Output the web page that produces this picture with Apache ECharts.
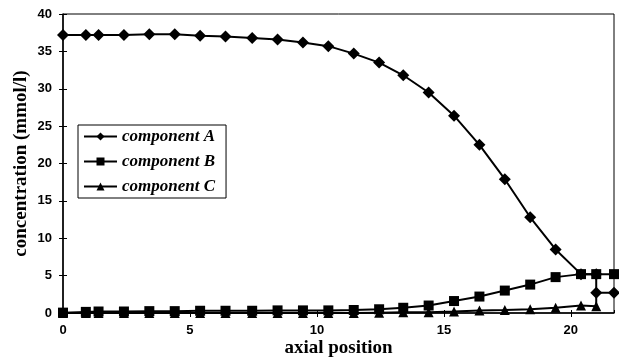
<!DOCTYPE html>
<html>
<head>
<meta charset="utf-8">
<script src="https://cdn.jsdelivr.net/npm/echarts@6/dist/echarts.min.js"></script>
<style>
html,body{margin:0;padding:0;background:#fff;}
#chart{width:619px;height:357px;}
</style>
</head>
<body>
<div id="chart"></div>
<script>
// axial positions shared by components A and B
const xPos = [0, 0.9, 1.4, 2.4, 3.4, 4.4, 5.4, 6.4, 7.45, 8.45, 9.45, 10.45, 11.45, 12.45, 13.4, 14.4, 15.4, 16.4, 17.4, 18.4, 19.4, 20.4, 21.0];
const valuesA = [37.2, 37.2, 37.2, 37.2, 37.3, 37.3, 37.1, 37.0, 36.8, 36.6, 36.2, 35.7, 34.7, 33.5, 31.8, 29.5, 26.4, 22.5, 17.9, 12.8, 8.5, 5.2, 5.2];
// outlet step of A
const xTailA = [21.0, 21.7];
const valuesTailA = [2.7, 2.7];
const valuesB = [0.05, 0.15, 0.2, 0.2, 0.25, 0.25, 0.3, 0.3, 0.3, 0.35, 0.35, 0.35, 0.4, 0.5, 0.7, 1.0, 1.6, 2.2, 3.0, 3.8, 4.8, 5.2, 5.2];
const xTailB = [21.7];
const valuesTailB = [5.2];
const xPosC = [0, 0.9, 1.4, 2.4, 3.4, 4.4, 5.4, 6.4, 7.45, 8.45, 9.45, 10.45, 11.45, 12.45, 13.4, 14.4, 15.4, 16.4, 17.4, 18.4, 19.4, 20.4, 21.0];
const valuesC = [0, 0, 0, 0, 0, 0, 0, 0, 0, 0, 0, 0, 0, 0.05, 0.1, 0.1, 0.2, 0.35, 0.4, 0.5, 0.7, 1.0, 0.9];
const seriesNames = ['component A', 'component B', 'component C'];
const yTicks = {min: 0, max: 40, interval: 5};
const xTicks = {min: 0, max: 21.7, interval: 5};

function pairs(xs, ys) { return xs.map((x, i) => [x, ys[i]]); }

const dataA = pairs(xPos, valuesA).concat(pairs(xTailA, valuesTailA));
const dataB = pairs(xPos, valuesB).concat(pairs(xTailB, valuesTailB));
const dataC = pairs(xPosC, valuesC).concat([[21.0, 2.7]].map(p => ({value: p, symbol: 'none'})));

const tickFont = {fontFamily: 'Liberation Sans, Arial, sans-serif', fontSize: 13, fontWeight: 'bold', color: '#000'};
const nameFont = {fontFamily: 'Liberation Serif, Times New Roman, serif', fontWeight: 'bold', fontSize: 19, color: '#000'};

const chart = echarts.init(document.getElementById('chart'), null, {renderer: 'canvas'});
chart.setOption({
  animation: false,
  backgroundColor: '#fff',
  grid: {left: 63, right: 5, top: 14, bottom: 44, outerBoundsMode: 'none', containLabel: false,
         show: true, borderColor: '#000', borderWidth: 1, backgroundColor: 'transparent'},
  legend: {
    orient: 'vertical', left: 78, top: 125,
    data: seriesNames,
    backgroundColor: '#fff', borderColor: '#000', borderWidth: 1,
    padding: [3, 11, 3, 5], itemGap: 8, itemWidth: 33, itemHeight: 10,
    textStyle: {fontFamily: 'Liberation Serif, Times New Roman, serif', fontStyle: 'italic', fontWeight: 'bold', fontSize: 17, color: '#000'}
  },
  xAxis: [{
    type: 'value', min: xTicks.min, max: xTicks.max, interval: xTicks.interval,
    name: 'axial position', nameLocation: 'middle', nameGap: 26, nameMoveOverlap: false, nameTextStyle: nameFont,
    axisLine: {onZero: false, lineStyle: {color: '#000', width: 1.5}},
    axisTick: {length: 4, lineStyle: {color: '#000'}},
    axisLabel: Object.assign({margin: 11, showMaxLabel: false}, tickFont),
    splitLine: {show: false}
  }, {
    type: 'value', position: 'bottom', min: xTicks.min, max: xTicks.max, interval: xTicks.interval,
    axisLine: {show: false}, axisTick: {inside: true, length: 3, lineStyle: {color: '#000'}},
    axisLabel: {show: false}, splitLine: {show: false}
  }],
  yAxis: [{
    type: 'value', min: yTicks.min, max: yTicks.max, interval: yTicks.interval,
    name: 'concentration (mmol/l)', nameLocation: 'middle', nameGap: 32, nameMoveOverlap: false, nameTextStyle: nameFont,
    axisLine: {onZero: false, lineStyle: {color: '#000', width: 1.5}},
    axisTick: {length: 4, lineStyle: {color: '#000'}},
    axisLabel: Object.assign({margin: 11}, tickFont),
    splitLine: {show: false}
  }, {
    type: 'value', position: 'left', min: yTicks.min, max: yTicks.max, interval: yTicks.interval,
    axisLine: {show: false}, axisTick: {inside: true, length: 4, lineStyle: {color: '#000'}},
    axisLabel: {show: false}, splitLine: {show: false}
  }],
  series: [
    {name: seriesNames[0], type: 'line', data: dataA, symbol: 'diamond', symbolSize: 12,
     lineStyle: {color: '#000', width: 2}, itemStyle: {color: '#000'}, z: 3},
    {name: seriesNames[1], type: 'line', data: dataB, symbol: 'rect', symbolSize: 10,
     lineStyle: {color: '#000', width: 2}, itemStyle: {color: '#000'}, z: 2},
    {name: seriesNames[2], type: 'line', data: dataC, symbol: 'triangle', symbolSize: 10,
     lineStyle: {color: '#000', width: 2}, itemStyle: {color: '#000'}, z: 2}
  ]
});
</script>
</body>
</html>
